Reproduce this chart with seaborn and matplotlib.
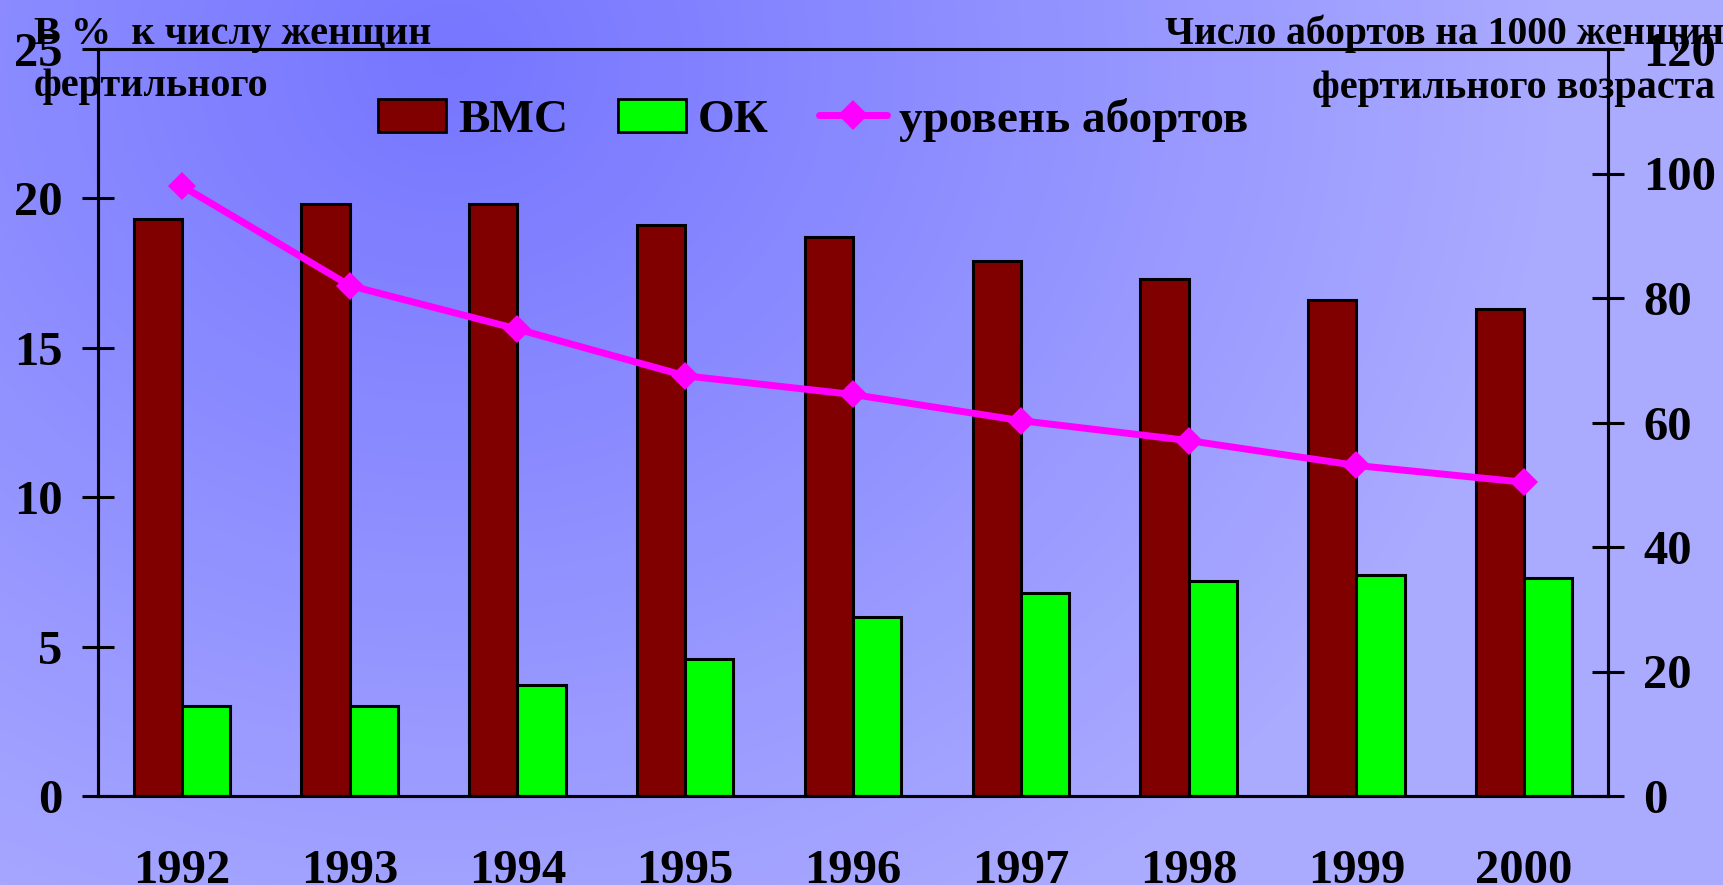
import numpy as np
import pandas as pd
import matplotlib
matplotlib.use("Agg")
import matplotlib.pyplot as plt
from matplotlib.lines import Line2D
import seaborn as sns

# data
years = ['1992', '1993', '1994', '1995', '1996', '1997', '1998', '1999', '2000']
vmc = [19.3, 19.8, 19.8, 19.1, 18.7, 17.9, 17.3, 16.6, 16.3]
ok = [3.0, 3.0, 3.7, 4.6, 6.0, 6.8, 7.2, 7.4, 7.3]
abortions = [98.0, 82.0, 75.0, 67.5, 64.5, 60.3, 57.1, 53.1, 50.4]
series_names = ['ВМС', 'ОК']
line_name = 'уровень абортов'
left_ticks = [0, 5, 10, 15, 20, 25]
right_ticks = [0, 20, 40, 60, 80, 100, 120]

sns.set_style("white")
plt.rcParams['font.family'] = ['Liberation Serif', 'DejaVu Serif']
plt.rcParams['font.weight'] = 'bold'
plt.rcParams['text.color'] = 'black'
plt.rcParams['xtick.color'] = 'black'
plt.rcParams['ytick.color'] = 'black'

W, H = 1724, 885
fig = plt.figure(figsize=(W / 100, H / 100), dpi=100)

# background gradient (radial, darker at upper left)
bg = fig.add_axes([0, 0, 1, 1], zorder=-10)
yy, xx = np.mgrid[0:H, 0:W]
d = np.sqrt(((xx - 450) / 1.0) ** 2 + ((yy - 60) / 0.9) ** 2)
t = np.clip(d / 1100, 0, 1)
c0 = np.array([118, 118, 255]) / 255
c1 = np.array([170, 170, 255]) / 255
img = c0[None, None, :] * (1 - t[..., None]) + c1[None, None, :] * t[..., None]
bg.imshow(img, aspect='auto', extent=[0, 1, 0, 1])
bg.axis('off')

ax = fig.add_axes([98 / W, 1 - 796 / H, (1608 - 98) / W, (796 - 49) / H])
ax.set_facecolor('none')

df = pd.DataFrame({
    'year': years * 2,
    'value': vmc + ok,
    'series': [series_names[0]] * len(years) + [series_names[1]] * len(years),
})
sns.barplot(data=df, x='year', y='value', hue='series', ax=ax,
            palette={'ВМС': '#800000', 'ОК': '#00ff00'}, saturation=1,
            width=0.575, gap=0, edgecolor='black', linewidth=2.2,
            legend=False, zorder=2)

ax.set_xlim(-0.5, len(years) - 0.5)
ax.set_ylim(0, 25)
ax.set_yticks(left_ticks)
ax.set_xlabel('')
ax.set_ylabel('')

ax2 = ax.twinx()
sns.lineplot(x=np.arange(len(years)), y=abortions, ax=ax2, color='#ff00ff',
             linewidth=5, marker='D', markersize=14, markeredgewidth=0,
             zorder=5)
ax2.set_ylim(0, 120)
ax2.set_yticks(right_ticks)
ax2.set_zorder(ax.get_zorder() + 1)
ax2.patch.set_visible(False)

for a in (ax, ax2):
    for s in a.spines.values():
        s.set_linewidth(2.2)
        s.set_color('black')

tick_font = 35
ax.tick_params(axis='y', direction='inout', length=23, width=2.2,
               pad=14, labelsize=tick_font)
ax2.tick_params(axis='y', direction='inout', length=23, width=2.2,
                pad=14, labelsize=tick_font)
ax.set_xticks(np.arange(len(years)))
ax.set_xticklabels(years)
ax.set_xticks(np.arange(len(years) + 1) - 0.5, minor=True)
ax.tick_params(axis='x', which='major', length=0, pad=38, labelsize=tick_font)
ax.tick_params(axis='x', which='minor', direction='inout', length=23, width=2.2)
for lab in ax.get_xticklabels() + ax.get_yticklabels() + ax2.get_yticklabels():
    lab.set_fontweight('bold')

# axis captions
fs = 29
fig.text(34 / W, 1 - 44 / H, 'В %  к числу женщин', fontsize=fs,
         fontweight='bold', ha='left', va='baseline')
fig.text(34 / W, 1 - 96 / H, 'фертильного', fontsize=fs,
         fontweight='bold', ha='left', va='baseline')
fig.text(1724 / W, 1 - 44 / H, 'Число абортов на 1000 женщин', fontsize=28.5,
         fontweight='bold', ha='right', va='baseline', zorder=1)
fig.text(1715 / W, 1 - 98 / H, 'фертильного возраста', fontsize=fs,
         fontweight='bold', ha='right', va='baseline')

# legend
handles = [
    plt.Rectangle((0, 0), 1, 1, facecolor='#800000', edgecolor='black', linewidth=2),
    plt.Rectangle((0, 0), 1, 1, facecolor='#00ff00', edgecolor='black', linewidth=2),
    Line2D([], [], color='#ff00ff', linewidth=5, marker='D', markersize=15,
           markeredgewidth=0),
]
fig.legend(handles, series_names + [line_name], loc='center left',
           bbox_to_anchor=(378 / W, 1 - 120 / H), ncol=3, frameon=False,
           prop={'size': 34, 'weight': 'bold'}, handlelength=1.45,
           handleheight=0.72, handletextpad=0.25, columnspacing=1.05,
           borderpad=0, borderaxespad=0)

fig.savefig('out.png', dpi=100)
